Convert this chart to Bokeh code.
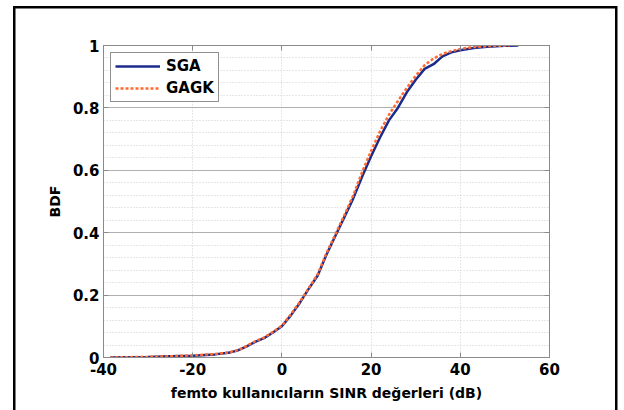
from bokeh.plotting import figure
from bokeh.models import (Legend, LegendItem, FixedTicker, LinearAxis, Range1d,
                          CustomLabelingPolicy)
from bokeh.embed import file_html
from bokeh.resources import INLINE

# ---- data ----
sga_x = [-38.5, -35, -30, -25, -20, -15, -12, -10, -8, -6, -4, -2, 0, 2, 4, 6, 8, 10,
         12, 14, 16, 18, 20, 22, 24, 26, 28, 30, 32, 34, 36, 38, 40, 43, 46, 50, 53]
sga_y = [0.0, 0.001, 0.002, 0.004, 0.006, 0.010, 0.015, 0.022, 0.035, 0.050, 0.062, 0.080,
         0.100, 0.135, 0.175, 0.220, 0.262, 0.330, 0.390, 0.450, 0.510, 0.580, 0.645, 0.705,
         0.760, 0.800, 0.850, 0.890, 0.925, 0.940, 0.965, 0.978, 0.985, 0.992, 0.996, 0.999, 1.0]

gagk_x = [-38.5, -35, -30, -25, -20, -15, -12, -10, -8, -6, -4, -2, 0, 2, 4, 6, 8, 10,
          12, 14, 16, 18, 20, 22, 24, 26, 28, 30, 32, 34, 36, 38, 40, 43, 46, 51]
gagk_y = [0.0, 0.001, 0.002, 0.004, 0.007, 0.011, 0.016, 0.023, 0.036, 0.052, 0.064, 0.082,
          0.102, 0.138, 0.178, 0.222, 0.266, 0.335, 0.395, 0.456, 0.520, 0.595, 0.662, 0.725,
          0.778, 0.822, 0.864, 0.903, 0.937, 0.958, 0.973, 0.982, 0.989, 0.995, 0.998, 1.0]

series_names = ["SGA", "GAGK"]
x_ticks = [-40, -20, 0, 20, 40, 60]
x_tick_labels = ["-40", "-20", "0", "20", "40", "60"]
y_ticks = [0, 0.2, 0.4, 0.6, 0.8, 1]
y_tick_labels = ["0", "0.2", "0.4", "0.6", "0.8", "1"]
y_minor = [round(0.04 * i, 2) for i in range(26)]
x_label = "femto kullanıcıların SINR değerleri (dB)"
y_label = "BDF"

FONT = "DejaVu Sans"
AX_GRAY = "#8a8a8a"

p = figure(width=624, height=410, output_backend="svg", toolbar_location=None,
           x_range=Range1d(-40, 60), y_range=Range1d(0, 1),
           min_border_left=103, min_border_right=75, min_border_top=45, min_border_bottom=53)
p.background_fill_color = "white"
p.border_fill_alpha = 0
p.outline_line_color = AX_GRAY
p.outline_line_width = 1

# outer black frame of the picture, drawn as host background (no layout effect)
p.styles = {
    "background": ("linear-gradient(#000,#000) 13px 6px / 2.5px 420px no-repeat, "
                   "linear-gradient(#000,#000) 13px 6px / 604px 2.5px no-repeat, "
                   "linear-gradient(#000,#000) 615px 6px / 2.5px 420px no-repeat, "
                   "#ffffff"),
}

xt = FixedTicker(ticks=x_ticks)
yt = FixedTicker(ticks=y_ticks, minor_ticks=y_minor)
p.xaxis.ticker = xt
p.yaxis.ticker = yt
p.xaxis.major_label_overrides = dict(zip(x_ticks, x_tick_labels))
p.yaxis.major_label_overrides = dict(zip(y_ticks, y_tick_labels))

for ax in (p.xaxis[0], p.yaxis[0]):
    ax.axis_line_color = AX_GRAY
    ax.major_tick_line_color = AX_GRAY
    ax.major_tick_in = 5
    ax.major_tick_out = 0
    ax.minor_tick_in = 0
    ax.minor_tick_out = 0
    ax.major_label_text_font = FONT
    ax.major_label_text_font_style = "bold"
    ax.major_label_text_font_size = "15px"
    ax.major_label_text_color = "black"
    ax.axis_label_text_font = FONT
    ax.axis_label_text_font_style = "bold"
    ax.axis_label_text_font_size = "14px"
    ax.axis_label_text_color = "black"

p.xaxis.axis_label = x_label
p.yaxis.axis_label = y_label
p.xaxis.major_label_standoff = 5
p.yaxis.major_label_standoff = 4
p.xaxis.axis_label_standoff = 7
p.yaxis.axis_label_standoff = 7

# extra top/right axes with inward ticks and no labels
no_labels = CustomLabelingPolicy(code="return new Set()")
for loc, tick in (("right", yt), ("above", xt)):
    ax = LinearAxis(ticker=tick, axis_line_color=AX_GRAY, major_label_policy=no_labels,
                    major_tick_line_color=AX_GRAY, major_tick_in=5, major_tick_out=0,
                    minor_tick_in=0, minor_tick_out=0, major_label_standoff=0)
    p.add_layout(ax, loc)

# grids
p.xgrid.grid_line_color = "#cfcfcf"
p.xgrid.grid_line_dash = "1 2"
p.xgrid.grid_line_width = 1
p.ygrid.grid_line_color = "#b0b0b0"
p.ygrid.grid_line_width = 1
p.ygrid.minor_grid_line_color = "#cfcfcf"
p.ygrid.minor_grid_line_dash = "1 2"
p.ygrid.minor_grid_line_width = 1

r1 = p.line(sga_x, sga_y, line_color="#1b2b8c", line_width=2.5)
r2 = p.line(gagk_x, gagk_y, line_color="#ff6a33", line_width=2.5, line_dash="3 2")

legend = Legend(items=[LegendItem(label=series_names[0], renderers=[r1]),
                       LegendItem(label=series_names[1], renderers=[r2])],
                location="top_left", margin=7, padding=4, spacing=4,
                glyph_width=45, glyph_height=18, label_height=18, label_standoff=6,
                label_text_font=FONT, label_text_font_style="bold",
                label_text_font_size="15px", label_text_color="black",
                border_line_color="#222222", border_line_width=1,
                background_fill_color="white", background_fill_alpha=1)
p.add_layout(legend)

open("out.html", "w").write(file_html(p, INLINE))
